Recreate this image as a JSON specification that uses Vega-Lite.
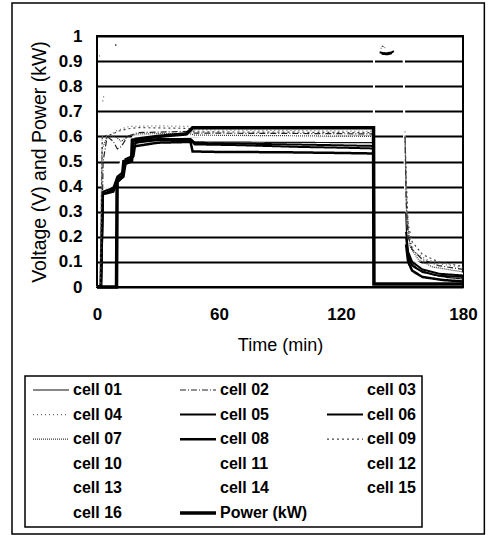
{
  "$schema": "https://vega.github.io/schema/vega-lite/v6.json",
  "autosize": "none",
  "width": 366,
  "height": 251,
  "padding": {"left": 97, "top": 36, "right": 25, "bottom": 248},
  "background": "white",
  "config": {
    "view": {"stroke": "black", "strokeWidth": 2},
    "font": "Liberation Sans",
    "legend": {"gridAlign": "all", "strokeWidth": 1.5}
  },
  "layer": [
    {
      "data": {"values": [{"frame": "outer"}]},
      "mark": {"type": "rect", "fill": "white", "fillOpacity": 0, "stroke": "black", "strokeWidth": 1.5, "clip": false},
      "encoding": {
        "x": {"datum": -41.8, "type": "quantitative", "scale": {"domain": [0, 180], "nice": false, "zero": false}},
        "x2": {"datum": 190.5},
        "y": {"datum": 1.1315, "type": "quantitative", "scale": {"domain": [0, 1], "nice": false, "zero": false}},
        "y2": {"datum": -0.984}
      }
    },
    {
      "data": {"values": [
        {"s":"cell 03","g":1,"t":0,"v":0},{"s":"cell 03","g":1,"t":2,"v":0.01},{"s":"cell 03","g":1,"t":3,"v":0.4},{"s":"cell 03","g":1,"t":9,"v":0.42},{"s":"cell 03","g":1,"t":14,"v":0.55},{"s":"cell 03","g":1,"t":18,"v":0.59},{"s":"cell 03","g":1,"t":45,"v":0.6},{"s":"cell 03","g":1,"t":136,"v":0.59},{"s":"cell 03","g":1,"t":136.3,"v":0.93},{"s":"cell 03","g":1,"t":150.8,"v":0.935},{"s":"cell 03","g":1,"t":151.3,"v":0.5},{"s":"cell 03","g":1,"t":152.5,"v":0.15},{"s":"cell 03","g":1,"t":155,"v":0.1},{"s":"cell 03","g":1,"t":165,"v":0.06},{"s":"cell 03","g":1,"t":180,"v":0.05},
        {"s":"cell 10","g":1,"t":0,"v":0},{"s":"cell 10","g":1,"t":2.2,"v":0.01},{"s":"cell 10","g":1,"t":3,"v":0.38},{"s":"cell 10","g":1,"t":9,"v":0.41},{"s":"cell 10","g":1,"t":14,"v":0.54},{"s":"cell 10","g":1,"t":18,"v":0.58},{"s":"cell 10","g":1,"t":45,"v":0.59},{"s":"cell 10","g":1,"t":136,"v":0.57},{"s":"cell 10","g":1,"t":136.4,"v":0.94},{"s":"cell 10","g":1,"t":150.9,"v":0.94},{"s":"cell 10","g":1,"t":151.4,"v":0.45},{"s":"cell 10","g":1,"t":152.6,"v":0.14},{"s":"cell 10","g":1,"t":155,"v":0.09},{"s":"cell 10","g":1,"t":165,"v":0.055},{"s":"cell 10","g":1,"t":180,"v":0.045},
        {"s":"cell 11","g":1,"t":0,"v":0},{"s":"cell 11","g":1,"t":2,"v":0.01},{"s":"cell 11","g":1,"t":2.8,"v":0.39},{"s":"cell 11","g":1,"t":9,"v":0.42},{"s":"cell 11","g":1,"t":14,"v":0.55},{"s":"cell 11","g":1,"t":18,"v":0.6},{"s":"cell 11","g":1,"t":45,"v":0.61},{"s":"cell 11","g":1,"t":136,"v":0.6},{"s":"cell 11","g":1,"t":136.2,"v":0.92},{"s":"cell 11","g":1,"t":150.7,"v":0.93},{"s":"cell 11","g":1,"t":151.2,"v":0.55},{"s":"cell 11","g":1,"t":152.4,"v":0.16},{"s":"cell 11","g":1,"t":155,"v":0.11},{"s":"cell 11","g":1,"t":165,"v":0.065},{"s":"cell 11","g":1,"t":180,"v":0.052},
        {"s":"cell 12","g":1,"t":0,"v":0},{"s":"cell 12","g":1,"t":1.8,"v":0.01},{"s":"cell 12","g":1,"t":2.7,"v":0.41},{"s":"cell 12","g":1,"t":9,"v":0.43},{"s":"cell 12","g":1,"t":14,"v":0.56},{"s":"cell 12","g":1,"t":18,"v":0.6},{"s":"cell 12","g":1,"t":45,"v":0.6},{"s":"cell 12","g":1,"t":136,"v":0.58},{"s":"cell 12","g":1,"t":136.3,"v":0.935},{"s":"cell 12","g":1,"t":150.8,"v":0.94},{"s":"cell 12","g":1,"t":151.3,"v":0.5},{"s":"cell 12","g":1,"t":152.5,"v":0.13},{"s":"cell 12","g":1,"t":155,"v":0.085},{"s":"cell 12","g":1,"t":165,"v":0.05},{"s":"cell 12","g":1,"t":180,"v":0.04},
        {"s":"cell 13","g":1,"t":0,"v":0},{"s":"cell 13","g":1,"t":2.1,"v":0.01},{"s":"cell 13","g":1,"t":3.1,"v":0.39},{"s":"cell 13","g":1,"t":9,"v":0.41},{"s":"cell 13","g":1,"t":14,"v":0.55},{"s":"cell 13","g":1,"t":18,"v":0.59},{"s":"cell 13","g":1,"t":45,"v":0.6},{"s":"cell 13","g":1,"t":136,"v":0.585},{"s":"cell 13","g":1,"t":136.4,"v":0.93},{"s":"cell 13","g":1,"t":150.9,"v":0.93},{"s":"cell 13","g":1,"t":151.4,"v":0.5},{"s":"cell 13","g":1,"t":152.6,"v":0.15},{"s":"cell 13","g":1,"t":155,"v":0.1},{"s":"cell 13","g":1,"t":165,"v":0.06},{"s":"cell 13","g":1,"t":180,"v":0.05},
        {"s":"cell 14","g":1,"t":0,"v":0},{"s":"cell 14","g":1,"t":2,"v":0.01},{"s":"cell 14","g":1,"t":2.9,"v":0.4},{"s":"cell 14","g":1,"t":9,"v":0.42},{"s":"cell 14","g":1,"t":14,"v":0.55},{"s":"cell 14","g":1,"t":18,"v":0.59},{"s":"cell 14","g":1,"t":45,"v":0.6},{"s":"cell 14","g":1,"t":136,"v":0.59},{"s":"cell 14","g":1,"t":136.3,"v":0.94},{"s":"cell 14","g":1,"t":150.8,"v":0.945},{"s":"cell 14","g":1,"t":151.3,"v":0.5},{"s":"cell 14","g":1,"t":152.5,"v":0.15},{"s":"cell 14","g":1,"t":155,"v":0.1},{"s":"cell 14","g":1,"t":165,"v":0.06},{"s":"cell 14","g":1,"t":180,"v":0.05},
        {"s":"cell 15","g":1,"t":0,"v":0},{"s":"cell 15","g":1,"t":2,"v":0.01},{"s":"cell 15","g":1,"t":3,"v":0.4},{"s":"cell 15","g":1,"t":9,"v":0.42},{"s":"cell 15","g":1,"t":14,"v":0.55},{"s":"cell 15","g":1,"t":18,"v":0.6},{"s":"cell 15","g":1,"t":45,"v":0.605},{"s":"cell 15","g":1,"t":136,"v":0.595},{"s":"cell 15","g":1,"t":136.3,"v":0.93},{"s":"cell 15","g":1,"t":150.8,"v":0.935},{"s":"cell 15","g":1,"t":151.3,"v":0.5},{"s":"cell 15","g":1,"t":152.5,"v":0.16},{"s":"cell 15","g":1,"t":155,"v":0.11},{"s":"cell 15","g":1,"t":165,"v":0.065},{"s":"cell 15","g":1,"t":180,"v":0.055},
        {"s":"cell 16","g":1,"t":0,"v":0},{"s":"cell 16","g":1,"t":2,"v":0.01},{"s":"cell 16","g":1,"t":3,"v":0.4},{"s":"cell 16","g":1,"t":9,"v":0.42},{"s":"cell 16","g":1,"t":14,"v":0.55},{"s":"cell 16","g":1,"t":18,"v":0.59},{"s":"cell 16","g":1,"t":45,"v":0.6},{"s":"cell 16","g":1,"t":136,"v":0.58},{"s":"cell 16","g":1,"t":136.3,"v":0.935},{"s":"cell 16","g":1,"t":150.8,"v":0.935},{"s":"cell 16","g":1,"t":151.3,"v":0.5},{"s":"cell 16","g":1,"t":152.5,"v":0.14},{"s":"cell 16","g":1,"t":155,"v":0.09},{"s":"cell 16","g":1,"t":165,"v":0.055},{"s":"cell 16","g":1,"t":180,"v":0.045},

        {"s":"cell 01","g":1,"t":0,"v":0},{"s":"cell 01","g":1,"t":1.5,"v":0.005},{"s":"cell 01","g":1,"t":2.5,"v":0.36},{"s":"cell 01","g":1,"t":4,"v":0.375},{"s":"cell 01","g":1,"t":8,"v":0.385},{"s":"cell 01","g":1,"t":9.5,"v":0.41},{"s":"cell 01","g":1,"t":10.5,"v":0.44},{"s":"cell 01","g":1,"t":13,"v":0.46},{"s":"cell 01","g":1,"t":14,"v":0.5},{"s":"cell 01","g":1,"t":17,"v":0.515},{"s":"cell 01","g":1,"t":18,"v":0.57},{"s":"cell 01","g":1,"t":25,"v":0.585},{"s":"cell 01","g":1,"t":40,"v":0.59},{"s":"cell 01","g":1,"t":46,"v":0.59},{"s":"cell 01","g":1,"t":48,"v":0.578},{"s":"cell 01","g":1,"t":70,"v":0.577},{"s":"cell 01","g":1,"t":100,"v":0.576},{"s":"cell 01","g":1,"t":136,"v":0.575},
        {"s":"cell 01","g":3,"t":151.8,"v":0.3},{"s":"cell 01","g":3,"t":152.5,"v":0.16},{"s":"cell 01","g":3,"t":154,"v":0.1},{"s":"cell 01","g":3,"t":158,"v":0.07},{"s":"cell 01","g":3,"t":165,"v":0.05},{"s":"cell 01","g":3,"t":172,"v":0.038},{"s":"cell 01","g":3,"t":180,"v":0.032},

        {"s":"cell 02","g":1,"t":0,"v":0},{"s":"cell 02","g":1,"t":2,"v":0.01},{"s":"cell 02","g":1,"t":3,"v":0.5},{"s":"cell 02","g":1,"t":5,"v":0.6},{"s":"cell 02","g":1,"t":8,"v":0.58},{"s":"cell 02","g":1,"t":10,"v":0.55},{"s":"cell 02","g":1,"t":12,"v":0.56},{"s":"cell 02","g":1,"t":15,"v":0.6},{"s":"cell 02","g":1,"t":20,"v":0.615},{"s":"cell 02","g":1,"t":45,"v":0.62},{"s":"cell 02","g":1,"t":48,"v":0.613},{"s":"cell 02","g":1,"t":90,"v":0.612},{"s":"cell 02","g":1,"t":136,"v":0.61},
        {"s":"cell 02","g":3,"t":151.5,"v":0.6},{"s":"cell 02","g":3,"t":152,"v":0.35},{"s":"cell 02","g":3,"t":153,"v":0.2},{"s":"cell 02","g":3,"t":155,"v":0.15},{"s":"cell 02","g":3,"t":160,"v":0.11},{"s":"cell 02","g":3,"t":168,"v":0.085},{"s":"cell 02","g":3,"t":180,"v":0.07},

        {"s":"cell 04","g":0,"t":1,"v":0.92},{"s":"cell 04","g":0,"t":2.5,"v":0.925},
        {"s":"cell 04","g":4,"t":2.8,"v":0.74},{"s":"cell 04","g":4,"t":3.3,"v":0.76},
        {"s":"cell 04","g":1,"t":0,"v":0},{"s":"cell 04","g":1,"t":1.5,"v":0.01},{"s":"cell 04","g":1,"t":2.5,"v":0.6},{"s":"cell 04","g":1,"t":6,"v":0.6},{"s":"cell 04","g":1,"t":9,"v":0.62},{"s":"cell 04","g":1,"t":12,"v":0.63},{"s":"cell 04","g":1,"t":16,"v":0.64},{"s":"cell 04","g":1,"t":30,"v":0.642},{"s":"cell 04","g":1,"t":45,"v":0.64},{"s":"cell 04","g":1,"t":48,"v":0.626},{"s":"cell 04","g":1,"t":90,"v":0.624},{"s":"cell 04","g":1,"t":136,"v":0.62},
        {"s":"cell 04","g":2,"t":139.5,"v":0.95},{"s":"cell 04","g":2,"t":141,"v":0.955},{"s":"cell 04","g":2,"t":143,"v":0.95},
        {"s":"cell 04","g":3,"t":151.5,"v":0.62},{"s":"cell 04","g":3,"t":152,"v":0.4},{"s":"cell 04","g":3,"t":153.5,"v":0.2},{"s":"cell 04","g":3,"t":156,"v":0.14},{"s":"cell 04","g":3,"t":162,"v":0.11},{"s":"cell 04","g":3,"t":170,"v":0.09},{"s":"cell 04","g":3,"t":180,"v":0.078},

        {"s":"cell 05","g":1,"t":0,"v":0},{"s":"cell 05","g":1,"t":2,"v":0.005},{"s":"cell 05","g":1,"t":3,"v":0.37},{"s":"cell 05","g":1,"t":8,"v":0.39},{"s":"cell 05","g":1,"t":10,"v":0.43},{"s":"cell 05","g":1,"t":13,"v":0.45},{"s":"cell 05","g":1,"t":14,"v":0.5},{"s":"cell 05","g":1,"t":18,"v":0.52},{"s":"cell 05","g":1,"t":19,"v":0.575},{"s":"cell 05","g":1,"t":30,"v":0.585},{"s":"cell 05","g":1,"t":46,"v":0.585},{"s":"cell 05","g":1,"t":48,"v":0.568},{"s":"cell 05","g":1,"t":70,"v":0.565},{"s":"cell 05","g":1,"t":100,"v":0.558},{"s":"cell 05","g":1,"t":120,"v":0.555},{"s":"cell 05","g":1,"t":136,"v":0.552},
        {"s":"cell 05","g":2,"t":139,"v":0.935},{"s":"cell 05","g":2,"t":142,"v":0.93},{"s":"cell 05","g":2,"t":145,"v":0.935},{"s":"cell 05","g":2,"t":146,"v":0.94},
        {"s":"cell 05","g":3,"t":152,"v":0.2},{"s":"cell 05","g":3,"t":153,"v":0.12},{"s":"cell 05","g":3,"t":155,"v":0.085},{"s":"cell 05","g":3,"t":160,"v":0.06},{"s":"cell 05","g":3,"t":168,"v":0.045},{"s":"cell 05","g":3,"t":180,"v":0.04},

        {"s":"cell 06","g":1,"t":0,"v":0},{"s":"cell 06","g":1,"t":2,"v":0.005},{"s":"cell 06","g":1,"t":3,"v":0.38},{"s":"cell 06","g":1,"t":8,"v":0.395},{"s":"cell 06","g":1,"t":10,"v":0.44},{"s":"cell 06","g":1,"t":13,"v":0.46},{"s":"cell 06","g":1,"t":14,"v":0.51},{"s":"cell 06","g":1,"t":17,"v":0.52},{"s":"cell 06","g":1,"t":18,"v":0.58},{"s":"cell 06","g":1,"t":30,"v":0.59},{"s":"cell 06","g":1,"t":46,"v":0.59},{"s":"cell 06","g":1,"t":48,"v":0.574},{"s":"cell 06","g":1,"t":80,"v":0.57},{"s":"cell 06","g":1,"t":110,"v":0.566},{"s":"cell 06","g":1,"t":136,"v":0.562},
        {"s":"cell 06","g":3,"t":152,"v":0.22},{"s":"cell 06","g":3,"t":153,"v":0.14},{"s":"cell 06","g":3,"t":155,"v":0.1},{"s":"cell 06","g":3,"t":160,"v":0.07},{"s":"cell 06","g":3,"t":168,"v":0.053},{"s":"cell 06","g":3,"t":180,"v":0.046},

        {"s":"cell 07","g":1,"t":0,"v":0},{"s":"cell 07","g":1,"t":1.5,"v":0.01},{"s":"cell 07","g":1,"t":2.5,"v":0.55},{"s":"cell 07","g":1,"t":5,"v":0.6},{"s":"cell 07","g":1,"t":9,"v":0.6},{"s":"cell 07","g":1,"t":12,"v":0.58},{"s":"cell 07","g":1,"t":15,"v":0.6},{"s":"cell 07","g":1,"t":20,"v":0.61},{"s":"cell 07","g":1,"t":45,"v":0.612},{"s":"cell 07","g":1,"t":48,"v":0.605},{"s":"cell 07","g":1,"t":90,"v":0.603},{"s":"cell 07","g":1,"t":136,"v":0.6},
        {"s":"cell 07","g":3,"t":151.6,"v":0.58},{"s":"cell 07","g":3,"t":152.2,"v":0.3},{"s":"cell 07","g":3,"t":154,"v":0.16},{"s":"cell 07","g":3,"t":158,"v":0.11},{"s":"cell 07","g":3,"t":165,"v":0.08},{"s":"cell 07","g":3,"t":180,"v":0.06},

        {"s":"cell 08","g":1,"t":0,"v":0},{"s":"cell 08","g":1,"t":2,"v":0.005},{"s":"cell 08","g":1,"t":2.8,"v":0.37},{"s":"cell 08","g":1,"t":8,"v":0.38},{"s":"cell 08","g":1,"t":10,"v":0.42},{"s":"cell 08","g":1,"t":13,"v":0.44},{"s":"cell 08","g":1,"t":14,"v":0.49},{"s":"cell 08","g":1,"t":17,"v":0.5},{"s":"cell 08","g":1,"t":18,"v":0.56},{"s":"cell 08","g":1,"t":30,"v":0.575},{"s":"cell 08","g":1,"t":46,"v":0.578},{"s":"cell 08","g":1,"t":47,"v":0.54},{"s":"cell 08","g":1,"t":60,"v":0.538},{"s":"cell 08","g":1,"t":90,"v":0.537},{"s":"cell 08","g":1,"t":120,"v":0.534},{"s":"cell 08","g":1,"t":136,"v":0.532},
        {"s":"cell 08","g":2,"t":140,"v":0.93},{"s":"cell 08","g":2,"t":143,"v":0.928},{"s":"cell 08","g":2,"t":145,"v":0.932},
        {"s":"cell 08","g":3,"t":152,"v":0.17},{"s":"cell 08","g":3,"t":153,"v":0.1},{"s":"cell 08","g":3,"t":155,"v":0.065},{"s":"cell 08","g":3,"t":160,"v":0.04},{"s":"cell 08","g":3,"t":170,"v":0.028},{"s":"cell 08","g":3,"t":180,"v":0.022},

        {"s":"cell 09","g":0,"t":9.2,"v":0.96},{"s":"cell 09","g":0,"t":9.3,"v":0.98},
        {"s":"cell 09","g":1,"t":0,"v":0},{"s":"cell 09","g":1,"t":1.8,"v":0.01},{"s":"cell 09","g":1,"t":2.6,"v":0.6},{"s":"cell 09","g":1,"t":8,"v":0.61},{"s":"cell 09","g":1,"t":10,"v":0.62},{"s":"cell 09","g":1,"t":15,"v":0.63},{"s":"cell 09","g":1,"t":20,"v":0.635},{"s":"cell 09","g":1,"t":45,"v":0.632},{"s":"cell 09","g":1,"t":48,"v":0.618},{"s":"cell 09","g":1,"t":90,"v":0.617},{"s":"cell 09","g":1,"t":136,"v":0.615},
        {"s":"cell 09","g":2,"t":140,"v":0.96},{"s":"cell 09","g":2,"t":142,"v":0.955},
        {"s":"cell 09","g":3,"t":151.5,"v":0.6},{"s":"cell 09","g":3,"t":152,"v":0.45},{"s":"cell 09","g":3,"t":153,"v":0.25},{"s":"cell 09","g":3,"t":155,"v":0.18},{"s":"cell 09","g":3,"t":160,"v":0.13},{"s":"cell 09","g":3,"t":168,"v":0.1},{"s":"cell 09","g":3,"t":180,"v":0.082},

        {"s":"Power (kW)","g":1,"t":0,"v":0},{"s":"Power (kW)","g":1,"t":9.6,"v":0},{"s":"Power (kW)","g":1,"t":9.9,"v":0.42},{"s":"Power (kW)","g":1,"t":12.5,"v":0.44},{"s":"Power (kW)","g":1,"t":13.2,"v":0.5},{"s":"Power (kW)","g":1,"t":17,"v":0.505},{"s":"Power (kW)","g":1,"t":17.4,"v":0.585},{"s":"Power (kW)","g":1,"t":22,"v":0.592},{"s":"Power (kW)","g":1,"t":30,"v":0.6},{"s":"Power (kW)","g":1,"t":44,"v":0.61},{"s":"Power (kW)","g":1,"t":47,"v":0.634},{"s":"Power (kW)","g":1,"t":136,"v":0.634},{"s":"Power (kW)","g":1,"t":136.2,"v":0.012},{"s":"Power (kW)","g":1,"t":180,"v":0.012}
      ]},
      "mark": {"type": "line", "strokeCap": "butt", "strokeJoin": "miter"},
      "encoding": {
        "x": {
          "field": "t", "type": "quantitative",
          "scale": {"domain": [0, 180], "nice": false, "zero": false},
          "axis": {"title": "Time (min)", "values": [0, 60, 120, 180], "grid": false, "domain": false, "ticks": false, "tickSize": 0,
                   "labelFontSize": 17, "labelFontWeight": "bold", "labelColor": "black", "labelPadding": 19,
                   "titleFontSize": 18, "titleFontWeight": "normal", "titleColor": "black", "titlePadding": 14, "labelFlush": false}
        },
        "y": {
          "field": "v", "type": "quantitative",
          "scale": {"domain": [0, 1], "nice": false, "zero": false},
          "axis": {"title": "Voltage (V) and Power (kW)", "values": [0, 0.1, 0.2, 0.3, 0.4, 0.5, 0.6, 0.7, 0.8, 0.9, 1], "tickCount": 20,
                   "labelExpr": "'' + datum.value", "grid": true, "gridColor": "black", "gridWidth": 2, "gridOpacity": 1,
                   "domain": false, "ticks": false, "tickSize": 0, "labelFontSize": 17, "labelFontWeight": "bold", "labelColor": "black",
                   "labelPadding": 15, "labelOverlap": false, "titleFontSize": 19.5, "titleFontWeight": "normal", "titleColor": "black", "titlePadding": 9, "labelFlush": false}
        },
        "detail": {"field": "g"},
        "color": {
          "field": "s", "type": "ordinal",
          "scale": {
            "type": "ordinal",
            "domain": ["cell 01","cell 04","cell 07","cell 10","cell 13","cell 16","cell 02","cell 05","cell 08","cell 11","cell 14","Power (kW)","cell 03","cell 06","cell 09","cell 12","cell 15"],
            "range": ["#111111","#666666","#333333","#ffffff","#ffffff","#ffffff","#222222","#000000","#000000","#ffffff","#ffffff","#000000","#ffffff","#000000","#444444","#ffffff","#ffffff"]
          },
          "legend": {
            "title": null, "orient": "none", "legendX": -72, "legendY": 340, "columns": 3, "direction": "vertical",
            "symbolType": "stroke", "symbolSize": 1300, "clipHeight": 16, "labelFontSize": 16, "labelFont": "Liberation Sans", "labelFontWeight": "bold",
            "labelColor": "black", "labelOffset": 2, "rowPadding": 8.6, "columnPadding": 17, "padding": 6, "strokeColor": "black"
          }
        },
        "strokeDash": {
          "field": "s", "type": "ordinal",
          "scale": {
            "type": "ordinal",
            "domain": ["cell 01","cell 04","cell 07","cell 10","cell 13","cell 16","cell 02","cell 05","cell 08","cell 11","cell 14","Power (kW)","cell 03","cell 06","cell 09","cell 12","cell 15"],
            "range": [[1,0],[1,3],[1,1],[1,0],[1,0],[1,0],[6,2,1,2],[1,0],[1,0],[1,0],[1,0],[1,0],[1,0],[1,0],[2,3],[1,0],[1,0]]
          }
        },
        "strokeWidth": {
          "field": "s", "type": "ordinal",
          "scale": {
            "type": "ordinal",
            "domain": ["cell 01","cell 04","cell 07","cell 10","cell 13","cell 16","cell 02","cell 05","cell 08","cell 11","cell 14","Power (kW)","cell 03","cell 06","cell 09","cell 12","cell 15"],
            "range": [1.2,1.2,1.2,1.5,1.5,1.5,1.2,2,2.5,1.5,1.5,3.5,1.5,2,1.2,1.5,1.5]
          }
        }
      }
    }
  ]
}
